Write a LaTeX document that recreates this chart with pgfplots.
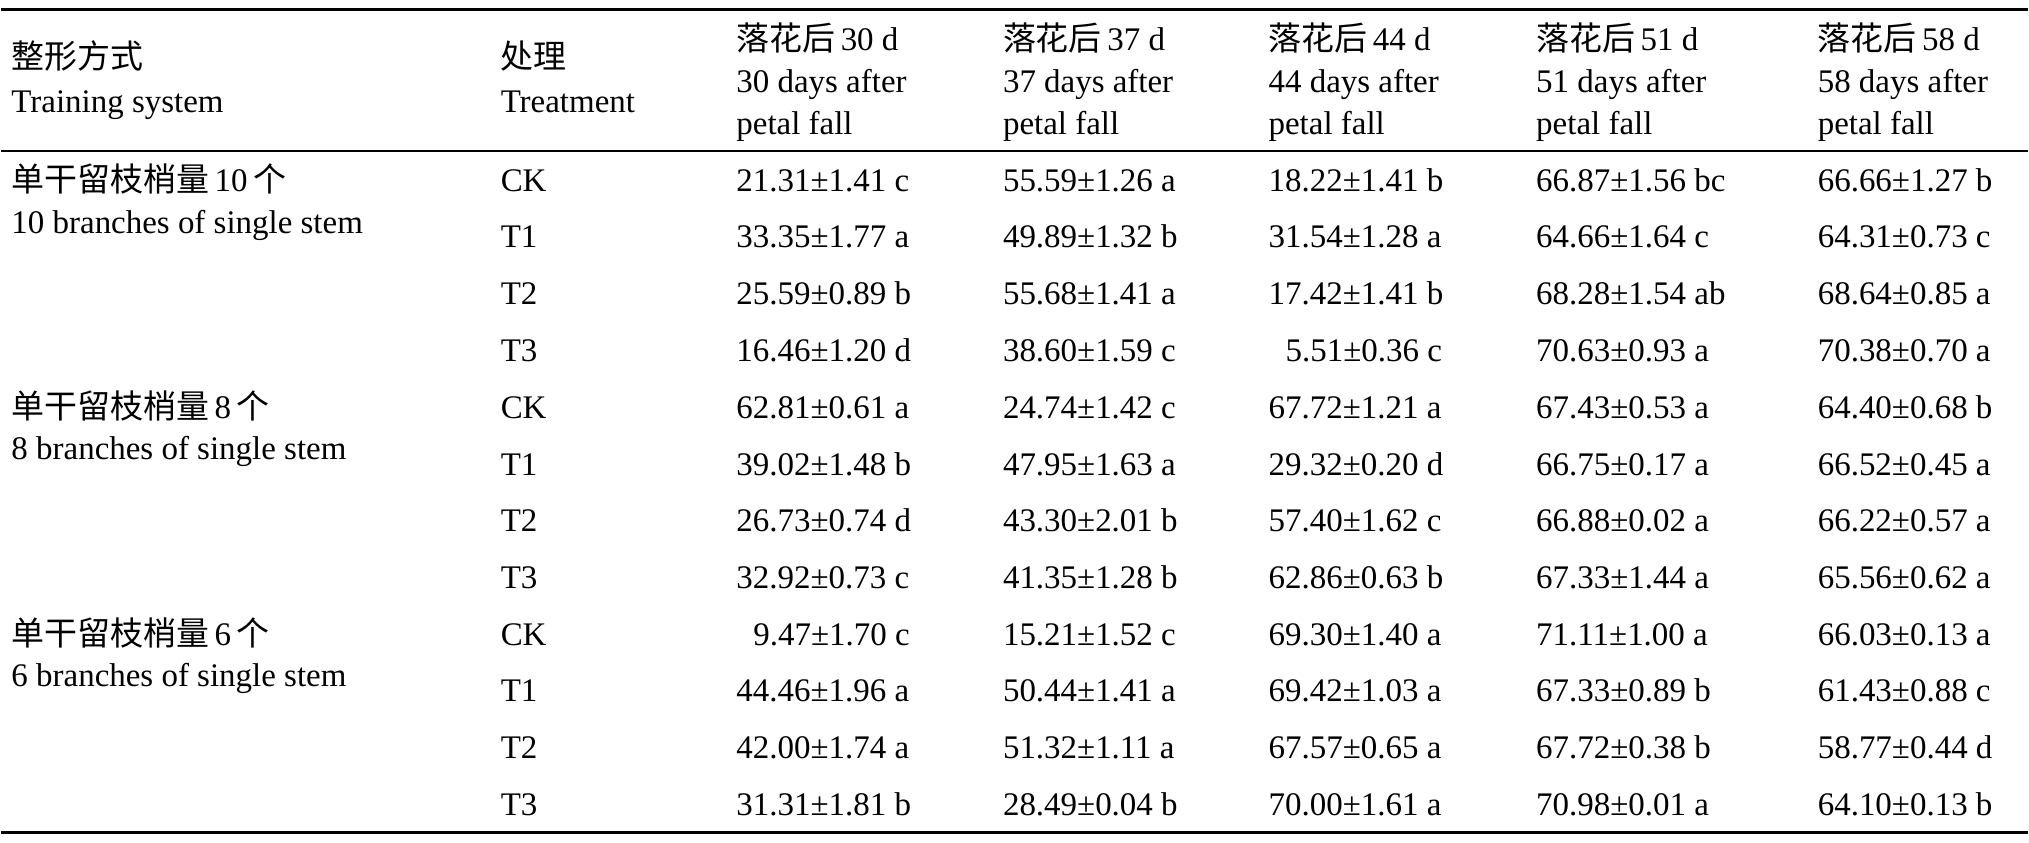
\documentclass[border=0pt]{standalone}
\usepackage{fontspec}
\setmainfont{Liberation Serif}
\newfontfamily\cjk{Noto Sans CJK SC}
\usepackage{pgfplots}
\usepackage{pgfplotstable}
\pgfplotsset{compat=1.18}

\pgfplotstableread[col sep=comma]{
x,y,lab
10,69,{\cjk 整形方式}
10,113,Training system
500,69,{\cjk 处理}
500,113,Treatment
736,51,{\cjk 落花后}\,30 d
736,93,30 days after
736,135,petal fall
1003,51,{\cjk 落花后}\,37 d
1003,93,37 days after
1003,135,petal fall
1269,51,{\cjk 落花后}\,44 d
1269,93,44 days after
1269,135,petal fall
1537,51,{\cjk 落花后}\,51 d
1537,93,51 days after
1537,135,petal fall
1819,51,{\cjk 落花后}\,58 d
1819,93,58 days after
1819,135,petal fall
10,192,{\cjk 单干留枝梢量}\,10\,{\cjk 个}
10,234,10 branches of single stem
10,419,{\cjk 单干留枝梢量}\,8\,{\cjk 个}
10,460,8 branches of single stem
10,646,{\cjk 单干留枝梢量}\,6\,{\cjk 个}
10,688,6 branches of single stem
500,192,CK
500,248,T1
500,305,T2
500,362,T3
500,419,CK
500,476,T1
500,532,T2
500,589,T3
500,646,CK
500,703,T1
500,760,T2
500,817,T3
}\labels

% 30 days after petal fall
\pgfplotstableread[col sep=comma]{
x,y,lab
736,192,21.31±1.41 c
736,248,33.35±1.77 a
736,305,25.59±0.89 b
736,362,16.46±1.20 d
736,419,62.81±0.61 a
736,476,39.02±1.48 b
736,532,26.73±0.74 d
736,589,32.92±0.73 c
753,646,9.47±1.70 c
736,703,44.46±1.96 a
736,760,42.00±1.74 a
736,817,31.31±1.81 b
}\dA

% 37 days after petal fall
\pgfplotstableread[col sep=comma]{
x,y,lab
1003,192,55.59±1.26 a
1003,248,49.89±1.32 b
1003,305,55.68±1.41 a
1003,362,38.60±1.59 c
1003,419,24.74±1.42 c
1003,476,47.95±1.63 a
1003,532,43.30±2.01 b
1003,589,41.35±1.28 b
1003,646,15.21±1.52 c
1003,703,50.44±1.41 a
1003,760,51.32±1.11 a
1003,817,28.49±0.04 b
}\dB

% 44 days after petal fall
\pgfplotstableread[col sep=comma]{
x,y,lab
1269,192,18.22±1.41 b
1269,248,31.54±1.28 a
1269,305,17.42±1.41 b
1286,362,5.51±0.36 c
1269,419,67.72±1.21 a
1269,476,29.32±0.20 d
1269,532,57.40±1.62 c
1269,589,62.86±0.63 b
1269,646,69.30±1.40 a
1269,703,69.42±1.03 a
1269,760,67.57±0.65 a
1269,817,70.00±1.61 a
}\dC

% 51 days after petal fall
\pgfplotstableread[col sep=comma]{
x,y,lab
1537,192,66.87±1.56 bc
1537,248,64.66±1.64 c
1537,305,68.28±1.54 ab
1537,362,70.63±0.93 a
1537,419,67.43±0.53 a
1537,476,66.75±0.17 a
1537,532,66.88±0.02 a
1537,589,67.33±1.44 a
1537,646,71.11±1.00 a
1537,703,67.33±0.89 b
1537,760,67.72±0.38 b
1537,817,70.98±0.01 a
}\dD

% 58 days after petal fall
\pgfplotstableread[col sep=comma]{
x,y,lab
1819,192,66.66±1.27 b
1819,248,64.31±0.73 c
1819,305,68.64±0.85 a
1819,362,70.38±0.70 a
1819,419,64.40±0.68 b
1819,476,66.52±0.45 a
1819,532,66.22±0.57 a
1819,589,65.56±0.62 a
1819,646,66.03±0.13 a
1819,703,61.43±0.88 c
1819,760,58.77±0.44 d
1819,817,64.10±0.13 b
}\dE

\begin{document}
\begin{tikzpicture}
\begin{axis}[
  width=2029bp, height=844bp, scale only axis,
  xmin=0, xmax=2029, ymin=0, ymax=844, y dir=reverse,
  hide axis, clip=false, enlargelimits=false,
  txt/.style={draw=none, mark=none, color=black,
    nodes near coords, point meta=explicit symbolic,
    every node near coord/.style={anchor=base west, inner sep=0pt, outer sep=0pt,
      font=\fontsize{33bp}{39bp}\selectfont, text=black}},
]
% invisible frame that fixes the page to the full 2029 x 844 area
\addplot[draw=none, mark=none, forget plot] coordinates {(0,0) (2029,844)};
\addplot[black, line width=3bp] coordinates {(0,10) (2029,10)};
\addplot[black, line width=1.6bp] coordinates {(0,151) (2029,151)};
\addplot[black, line width=3bp] coordinates {(0,834) (2029,834)};
\addplot[txt] table[x=x, y=y, meta=lab] {\labels};
\addplot[txt] table[x=x, y=y, meta=lab] {\dA};
\addplot[txt] table[x=x, y=y, meta=lab] {\dB};
\addplot[txt] table[x=x, y=y, meta=lab] {\dC};
\addplot[txt] table[x=x, y=y, meta=lab] {\dD};
\addplot[txt] table[x=x, y=y, meta=lab] {\dE};
\end{axis}
\end{tikzpicture}
\end{document}
